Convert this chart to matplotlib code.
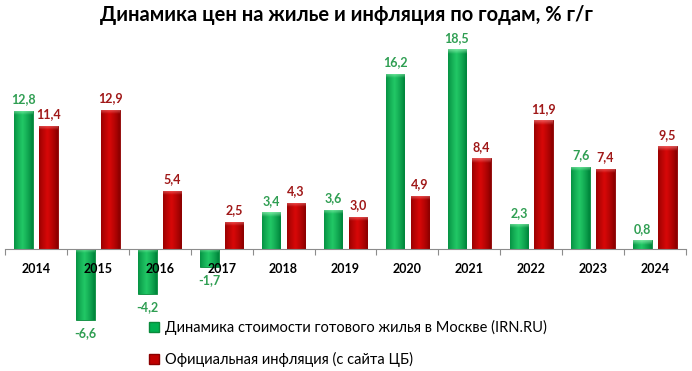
import matplotlib
matplotlib.use("Agg")
import matplotlib.pyplot as plt
import numpy as np
from matplotlib.patches import Patch

years = ["2014", "2015", "2016", "2017", "2018", "2019", "2020", "2021", "2022", "2023", "2024"]
housing = [12.8, -6.6, -4.2, -1.7, 3.4, 3.6, 16.2, 18.5, 2.3, 7.6, 0.8]
inflation = [11.4, 12.9, 5.4, 2.5, 4.3, 3.0, 4.9, 8.4, 11.9, 7.4, 9.5]
legend_labels = ["Динамика стоимости готового жилья в Москве (IRN.RU)",
                 "Официальная инфляция (с сайта ЦБ)"]
title = "Динамика цен на жилье и инфляция по годам, % г/г"

plt.rcParams['font.family'] = ['Lato', 'DejaVu Sans']


def fmt(v):
    return f"{v:.1f}".replace(".", ",")


def gradient_bars(ax, bars, dark, mid, light):
    # horizontal gradient: dark edges, light centre
    xs = np.linspace(0, 1, 64)
    w = 1 - np.abs(xs - 0.45) * 2
    w = np.clip(w, 0, 1) ** 0.8
    dark = np.array(matplotlib.colors.to_rgb(dark))
    mid = np.array(matplotlib.colors.to_rgb(mid))
    light = np.array(matplotlib.colors.to_rgb(light))
    row = dark[None, :] * (1 - w[:, None]) + mid[None, :] * w[:, None]
    img = np.repeat(row[None, :, :], 2, axis=0)
    # vertical fade for the bevel at the top end
    ys = np.linspace(0, 1, 16)[:, None]
    bevel = np.zeros((16, 2, 4))
    bevel[..., :3] = light
    bevel[..., 3] = 0.6 * ys
    for b in bars:
        x0, y0 = b.get_x(), b.get_y()
        bw, bh = b.get_width(), b.get_height()
        im = ax.imshow(img, extent=(x0, x0 + bw, y0, y0 + bh), aspect='auto',
                       zorder=1.2, interpolation='bilinear')
        im.set_clip_path(b)
        top = max(y0, y0 + bh)
        cap = 0.4
        bv = ax.imshow(bevel, extent=(x0, x0 + bw, top - cap, top), aspect='auto',
                       zorder=1.3, interpolation='bilinear', origin='lower')
        bv.set_clip_path(b)


fig = plt.figure(figsize=(6.92, 3.71), dpi=100)
ax = fig.add_axes([5 / 692, 41 / 371, 681 / 692, 297 / 371])

x = np.arange(len(years))
bw = 0.3
g_bars = ax.bar(x - 0.2, housing, bw, color="#00b050", edgecolor="#0a8a3c", linewidth=0.6, zorder=1)
r_bars = ax.bar(x + 0.2, inflation, bw, color="#c00000", edgecolor="#8a0000", linewidth=0.6, zorder=1)
gradient_bars(ax, g_bars, "#00873c", "#22c866", "#b0ffc8")
gradient_bars(ax, r_bars, "#8e0000", "#d80808", "#ff9090")

for xi, v in zip(x, housing):
    if v >= 0:
        ax.annotate(fmt(v), (xi - 0.2, v), xytext=(0, 4), textcoords="offset points",
                    ha="center", va="bottom", color="#2f9e52", fontsize=9, fontweight="bold")
    else:
        ax.annotate(fmt(v), (xi - 0.2, v), xytext=(0, -5), textcoords="offset points",
                    ha="center", va="top", color="#2f9e52", fontsize=9, fontweight="bold")
for xi, v in zip(x, inflation):
    ax.annotate(fmt(v), (xi + 0.2, v), xytext=(0, 4), textcoords="offset points",
                ha="center", va="bottom", color="#a01818", fontsize=9, fontweight="bold")

ax.set_xlim(-0.5, len(years) - 0.5)
ax.set_ylim(-7.5, 20)
for s in ["top", "right", "left"]:
    ax.spines[s].set_visible(False)
ax.spines["bottom"].set_position(("data", 0))
ax.spines["bottom"].set_color("#8c8c8c")
ax.spines["bottom"].set_zorder(3)
ax.set_yticks([])
ax.set_xticks(np.arange(len(years) + 1) - 0.5)
ax.set_xticklabels([])
ax.tick_params(axis="x", which="major", length=4, color="#8c8c8c", direction="out")
ax.set_xticks(x, minor=True)
ax.set_xticklabels(years, minor=True, fontsize=9, fontweight="bold")
ax.tick_params(axis="x", which="minor", length=0, pad=10)
ax.xaxis.set_zorder(3)

fig.text(0.5, 1 - 15 / 371, title, ha="center", va="center", fontsize=14.5, fontweight="bold")

handles = [Patch(facecolor="#00b050", edgecolor="#0a8a3c"),
           Patch(facecolor="#c00000", edgecolor="#8a0000")]
fig.legend(handles, legend_labels, loc="upper left", bbox_to_anchor=(149 / 692, 1 - 320 / 371),
           frameon=False, fontsize=10.5, handlelength=0.7, handleheight=0.7,
           handletextpad=0.4, labelspacing=1.15, borderaxespad=0, borderpad=0)

fig.savefig("out.png", dpi=100)
